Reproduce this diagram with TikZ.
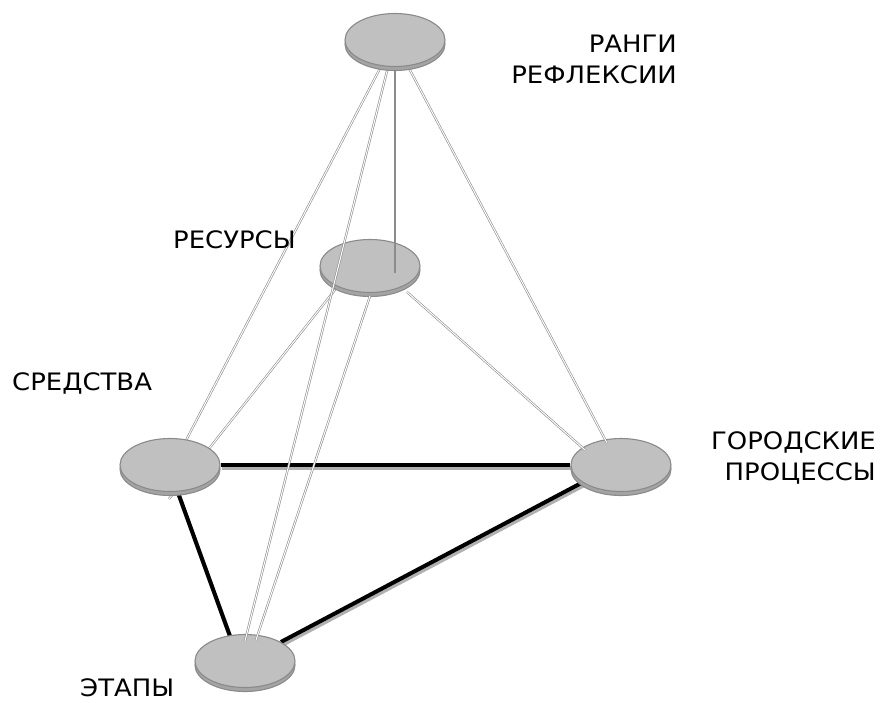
\documentclass[tikz,border=0pt]{standalone}
\usepackage{fontspec}
\setmainfont[FakeStretch=1.08]{DejaVu Sans}
\usetikzlibrary{shapes.geometric,shadows,calc}
\definecolor{ellfill}{HTML}{C0C0C0}
\definecolor{ellline}{HTML}{8A8A8A}
\definecolor{ellshade}{HTML}{A4A4A4}
\definecolor{wire}{HTML}{8C8C8C}
\definecolor{boldshade}{HTML}{B0B0B0}
\pgfdeclarelayer{back}
\pgfdeclarelayer{over}
\pgfdeclarelayer{top}
\pgfsetlayers{back,main,over,top}

\begin{document}
\begin{tikzpicture}[x=1pt,y=-1pt,
  pole/.style={ellipse, minimum width=100pt, minimum height=53pt, inner sep=0pt,
    fill=ellfill, draw=ellline, line width=1.1pt,
    general shadow={fill=ellshade, draw=ellshade!85!black, line width=1.1pt, shadow yshift=-4pt}},
  tie/.style={draw=wire, line width=0.6pt, double=white, double distance=1pt},
  axisline/.style={draw=wire, line width=1.1pt},
  bold/.style={draw=black, line width=4pt},
  boldshadow/.style={draw=boldshade, line width=4pt, transform canvas={shift={(1pt,-3pt)}}},
  label/.style={font=\fontsize{24}{31}\selectfont, inner sep=0pt, text=black}
]
\begin{pgfonlayer}{back}
\path[fill=white] (0,0) rectangle (880,702);
\end{pgfonlayer}

% the five poles
\node[pole] (M) at (170,465) {};
\node[pole] (G) at (621,465) {};
\node[pole] (E) at (245,661) {};
\node[pole] (S) at (370,266) {};
\begin{pgfonlayer}{top}
\node[pole] (R) at (395,40) {};
\end{pgfonlayer}

% captions
\node[label, anchor=north east, align=right] (Rl) at (677,35) {РАНГИ\\РЕФЛЕКСИИ};
\node[label, anchor=north west] (Sl) at (173,230) {РЕСУРСЫ};
\node[label, anchor=north west] (Ml) at (12,372) {СРЕДСТВА};
\node[label, anchor=north east, align=right] (Gl) at (876,431) {ГОРОДСКИЕ\\ПРОЦЕССЫ};
\node[label, anchor=north west] (El) at (80,678) {ЭТАПЫ};

% bold base triangle and links hidden behind the poles
\begin{pgfonlayer}{back}
\draw[boldshadow] (M) -- (G);
\draw[boldshadow] ($(M)+(-2,0)$) -- ($(E)+(-6,0)$);
\draw[boldshadow] (E) -- ($(G)+(0,-3)$);
\draw[bold] (M) -- (G);
\draw[bold] ($(M)+(-2,0)$) -- ($(E)+(-6,0)$);
\draw[bold] (E) -- ($(G)+(0,-3)$);
\draw[tie] ($(R)+(-8,15)$) -- ($(M)+(11,-15)$);
\draw[tie] ($(S)+(-32,20)$) -- ($(M)+(-1,34)$);
\end{pgfonlayer}

% links running over the poles
\begin{pgfonlayer}{over}
\draw[tie] ($(R)+(-4,15)$) -- ($(E)+(0,-20)$);
\draw[axisline] ($(R)+(0,15)$) -- ($(S)+(25,7)$);
\draw[tie] ($(S)+(0,30)$) -- ($(E)+(11,-21)$);
\draw[tie] ($(S)+(37,26)$) -- ($(G)+(-36,-15)$);
\draw[tie] ($(R)+(7,15)$) -- ($(G)+(-14,-22)$);
\end{pgfonlayer}
\end{tikzpicture}
\end{document}
